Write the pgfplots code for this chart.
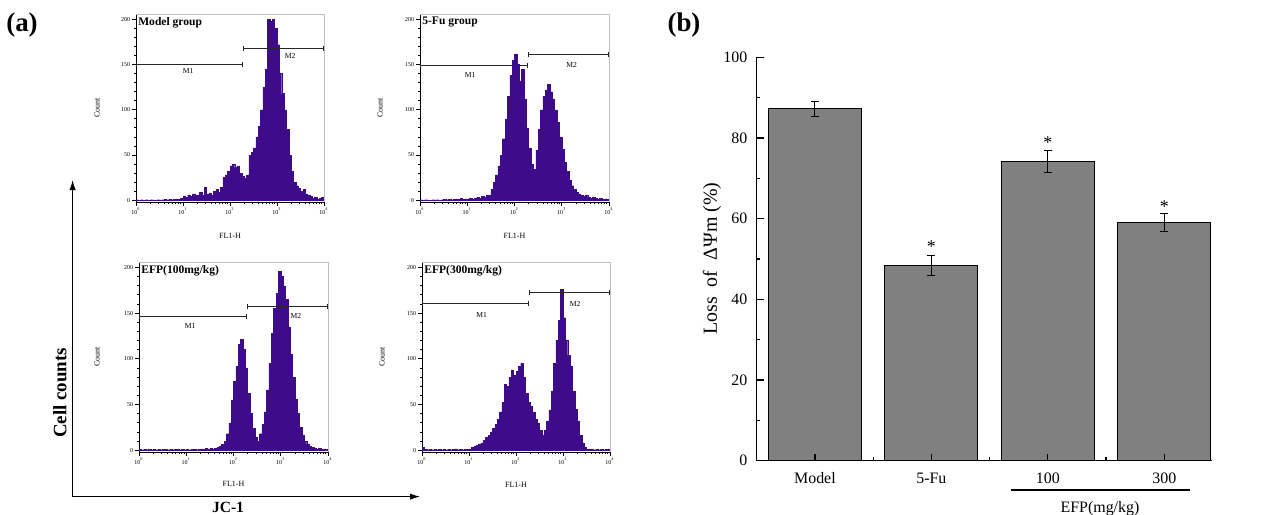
\documentclass[border=0pt]{standalone}
\usepackage{pgfplots}
\pgfplotsset{compat=1.18}
\usepackage{pgfplotstable}
\usepackage{fontspec}
\setmainfont{Liberation Serif}
\usetikzlibrary{arrows.meta}
\definecolor{hist}{RGB}{62,12,138}
\definecolor{barg}{RGB}{128,128,128}

\pgfplotstableread{
x y err
0 87.2 1.9
1 48.4 2.5
2 74.2 2.8
3 59.1 2.25
}\bardata

\pgfplotsset{
 histax/.style={
  scale only axis, width=94bp, height=94bp,
  xmin=0, xmax=4, ymin=-2, ymax=206,
  axis lines=left, axis line style={-, line width=0.5pt},
  clip=false,
  xtick={0,1,2,3,4},
  xticklabels={10\textsuperscript{0},10\textsuperscript{1},10\textsuperscript{2},10\textsuperscript{3},10\textsuperscript{4}},
  minor xtick={0.301,0.477,0.602,0.699,0.778,0.845,0.903,0.954,1.301,1.477,1.602,1.699,1.778,1.845,1.903,1.954,2.301,2.477,2.602,2.699,2.778,2.845,2.903,2.954,3.301,3.477,3.602,3.699,3.778,3.845,3.903,3.954},
  ytick={0,50,100,150,200},
  minor y tick num=4,
  tick align=outside,
  major tick length=2bp, minor tick length=1bp,
  every tick/.style={black, line width=0.4pt},
  tick label style={font=\fontsize{3}{3.5}\selectfont, inner sep=0.8bp},
  /pgf/number format/assume math mode=true,
 },
 hfill/.style={const plot, fill=hist, draw=hist, line width=0.2pt},
}
\tikzset{
 mline/.style={{Bar[width=2.5bp]}-{Bar[width=2.5bp]}, line width=0.55pt, black!85},
 mlab/.style={font=\fontsize{3.8}{4}\selectfont, inner sep=0pt},
 ptitle/.style={font=\bfseries\fontsize{5.8}{6}\selectfont, anchor=north west, inner sep=0.5bp},
 hframe/.style={gray!50, line width=0.3pt},
}

\begin{document}
\begin{tikzpicture}
\useasboundingbox (0,0) rectangle (632bp,-257.5bp);

% ---------- Panel (a) ----------
\node[font=\bfseries\fontsize{13.5}{14}\selectfont] at (11bp,-12.5bp) {(a)};

% Model group
\begin{axis}[histax, anchor=south west, at={(68bp,-101bp)}]
\addplot[hfill] coordinates {(0,0.5) (0.05,0) (0.1,0.5) (0.15,0) (0.2,0.5) (0.25,0) (0.3,0.5) (0.35,0.3) (0.4,0) (0.45,0.5) (0.5,0.3) (0.55,0.5) (0.6,1) (0.65,0.5) (0.7,1) (0.75,0.5) (0.8,1) (0.85,1.5) (0.9,1) (0.95,2) (1,4) (1.05,3) (1.1,6) (1.15,4) (1.2,7) (1.25,5) (1.3,6) (1.35,9) (1.4,5) (1.45,14) (1.5,7) (1.55,8) (1.6,6) (1.65,10) (1.7,12) (1.75,9) (1.8,14) (1.85,25) (1.9,28) (1.95,32) (2,38) (2.05,40) (2.1,36) (2.15,38) (2.2,30) (2.25,27) (2.3,24) (2.35,28) (2.4,50) (2.45,53) (2.5,58) (2.55,70) (2.6,82) (2.65,100) (2.7,125) (2.75,145) (2.8,200) (2.85,198) (2.9,200) (2.95,190) (3,172) (3.05,140) (3.1,118) (3.15,100) (3.2,78) (3.25,50) (3.3,32) (3.35,20) (3.4,16) (3.45,13) (3.5,10) (3.55,12) (3.6,7) (3.65,5) (3.7,4) (3.75,2) (3.8,3) (3.85,1) (3.9,2) (3.95,3) (4,5)} \closedcycle;
\draw[hframe] (rel axis cs:0,1) -- (rel axis cs:1,1) -- (rel axis cs:1,0);
\draw[mline] (axis cs:0,150) -- (axis cs:2.28,150);
\draw[mline] (axis cs:2.28,168) -- (axis cs:4,168);
\node[mlab] at (axis cs:1.11,143) {M1};
\node[mlab] at (axis cs:3.28,160) {M2};
\node[ptitle] at (rel axis cs:0.005,0.99) {Model group};
\end{axis}

% 5-Fu group
\begin{axis}[histax, anchor=south west, at={(210bp,-101bp)}, width=94.5bp]
\addplot[hfill] coordinates {(0,0.5) (0.05,0) (0.1,0.5) (0.15,0.3) (0.2,0) (0.25,0.5) (0.3,0.3) (0.35,0.5) (0.4,0) (0.45,0.5) (0.5,1) (0.55,0.5) (0.6,1) (0.65,0.5) (0.7,1) (0.75,1.5) (0.8,1) (0.85,2) (0.9,1) (0.95,1.5) (1,1.5) (1.05,2) (1.1,1) (1.15,2) (1.2,3) (1.25,2) (1.3,4) (1.35,3) (1.4,6) (1.45,5) (1.5,12) (1.55,20) (1.6,28) (1.65,38) (1.7,50) (1.75,68) (1.8,90) (1.85,115) (1.9,138) (1.95,155) (2,162) (2.05,150) (2.1,132) (2.15,145) (2.2,112) (2.25,80) (2.3,58) (2.35,40) (2.4,34) (2.45,55) (2.5,78) (2.55,100) (2.6,115) (2.65,122) (2.7,128) (2.75,120) (2.8,112) (2.85,100) (2.9,86) (2.95,70) (3,56) (3.05,42) (3.1,32) (3.15,22) (3.2,16) (3.25,12) (3.3,9) (3.35,7) (3.4,5) (3.45,4) (3.5,5) (3.55,3) (3.6,2) (3.65,3) (3.7,2) (3.75,1) (3.8,2) (3.85,1) (3.9,1.5) (3.95,1) (4,2)} \closedcycle;
\draw[hframe] (rel axis cs:0,1) -- (rel axis cs:1,1) -- (rel axis cs:1,0);
\draw[mline] (axis cs:0,149) -- (axis cs:2.28,149);
\draw[mline] (axis cs:2.28,161) -- (axis cs:4,161);
\node[mlab] at (axis cs:1.06,139) {M1};
\node[mlab] at (axis cs:3.21,150) {M2};
\node[ptitle] at (rel axis cs:0.005,0.99) {5-Fu group};
\end{axis}

% EFP 100
\begin{axis}[histax, anchor=south west, at={(69.5bp,-226bp)}, width=94.5bp, height=95bp]
\addplot[hfill] coordinates {(0,1) (0.05,0.5) (0.1,1) (0.15,0.5) (0.2,1) (0.25,0.5) (0.3,1) (0.35,0.5) (0.4,1) (0.45,0.5) (0.5,1) (0.55,1) (0.6,0.5) (0.65,1) (0.7,0.5) (0.75,1) (0.8,1) (0.85,0.5) (0.9,1) (0.95,0.5) (1,1) (1.05,0.5) (1.1,1) (1.15,1) (1.2,0.5) (1.25,1) (1.3,1.5) (1.35,1) (1.4,2) (1.45,1.5) (1.5,2) (1.55,1.5) (1.6,2) (1.65,3) (1.7,4) (1.75,6) (1.8,10) (1.85,18) (1.9,30) (1.95,55) (2,75) (2.05,92) (2.1,116) (2.15,121) (2.2,110) (2.25,90) (2.3,62) (2.35,40) (2.4,24) (2.45,14) (2.5,10) (2.55,18) (2.6,28) (2.65,42) (2.7,66) (2.75,95) (2.8,128) (2.85,155) (2.9,172) (2.95,196) (3,190) (3.05,180) (3.1,165) (3.15,135) (3.2,105) (3.25,80) (3.3,56) (3.35,40) (3.4,25) (3.45,16) (3.5,10) (3.55,7) (3.6,4) (3.65,3) (3.7,2) (3.75,1.5) (3.8,2) (3.85,1) (3.9,1.5) (3.95,1) (4,1)} \closedcycle;
\draw[hframe] (rel axis cs:0,1) -- (rel axis cs:1,1) -- (rel axis cs:1,0);
\draw[mline] (axis cs:0,146) -- (axis cs:2.29,146);
\draw[mline] (axis cs:2.29,157) -- (axis cs:4,157);
\node[mlab] at (axis cs:1.08,136) {M1};
\node[mlab] at (axis cs:3.32,147) {M2};
\node[ptitle] at (rel axis cs:0.005,0.99) {EFP(100mg/kg)};
\end{axis}

% EFP 300
\begin{axis}[histax, anchor=south west, at={(211bp,-226bp)}, width=94bp, height=95bp]
\addplot[hfill] coordinates {(0,3) (0.05,1) (0.1,0.5) (0.15,1) (0.2,0.5) (0.25,1) (0.3,0.5) (0.35,1) (0.4,0.5) (0.45,1) (0.5,0.5) (0.55,1) (0.6,0.5) (0.65,1) (0.7,1.5) (0.75,0.5) (0.8,1) (0.85,0.5) (0.9,1) (0.95,1) (1,1.5) (1.05,3) (1.1,4) (1.15,5) (1.2,7) (1.25,8) (1.3,11) (1.35,14) (1.4,16) (1.45,20) (1.5,24) (1.55,28) (1.6,34) (1.65,42) (1.7,52) (1.75,72) (1.8,70) (1.85,80) (1.9,88) (1.95,82) (2,86) (2.05,92) (2.1,95) (2.15,80) (2.2,62) (2.25,52) (2.3,48) (2.35,42) (2.4,34) (2.45,30) (2.5,22) (2.55,16) (2.6,22) (2.65,32) (2.7,44) (2.75,65) (2.8,95) (2.85,120) (2.9,142) (2.95,176) (3,145) (3.05,120) (3.1,104) (3.15,92) (3.2,65) (3.25,45) (3.3,32) (3.35,16) (3.4,8) (3.45,3) (3.5,1) (3.55,1.5) (3.6,1) (3.65,0.5) (3.7,1) (3.75,0.5) (3.8,1) (3.85,0.5) (3.9,1) (3.95,1.5) (4,1)} \closedcycle;
\draw[hframe] (rel axis cs:0,1) -- (rel axis cs:1,1) -- (rel axis cs:1,0);
\draw[mline] (axis cs:0,161) -- (axis cs:2.27,161);
\draw[mline] (axis cs:2.27,173) -- (axis cs:4,173);
\node[mlab] at (axis cs:1.27,148) {M1};
\node[mlab] at (axis cs:3.26,160) {M2};
\node[ptitle] at (rel axis cs:0.005,0.99) {EFP(300mg/kg)};
\end{axis}

% labels for small panels
\foreach \cx/\cy in {48.5/54, 190/54, 48.5/178.5, 191/178.5}
  \node[font=\fontsize{4}{4.5}\selectfont, rotate=90] at (\cx bp,-\cy bp) {Count};
\foreach \cx/\cy in {115/118, 257.25/118, 116.75/242, 258/242.5}
  \node[font=\fontsize{4}{4.5}\selectfont] at (\cx bp,-\cy bp) {FL1-H};

% big arrows
\draw[{Latex[length=5bp,width=3.2bp]}-{Latex[length=5bp,width=3.2bp]}, line width=0.6pt]
  (36.3bp,-90bp) -- (36.3bp,-248.3bp) -- (210bp,-248.3bp);
\node[font=\bfseries\fontsize{9.5}{10}\selectfont, rotate=90] at (30bp,-196.5bp) {Cell counts};
\node[font=\bfseries\fontsize{7.8}{8}\selectfont] at (114bp,-253.5bp) {JC-1};

% ---------- Panel (b) ----------
\node[font=\bfseries\fontsize{13.5}{14}\selectfont] at (342bp,-12.5bp) {(b)};

\begin{axis}[scale only axis, anchor=south west, at={(378.35bp,-230.35bp)},
  width=227.65bp, height=201.7bp,
  xmin=-0.5, xmax=3.41, ymin=0, ymax=100,
  axis lines=left, axis line style={-, line width=0.7pt},
  axis on top,
  ybar, bar width=0.8,
  xtick={0,1,2,3}, xticklabels={Model,5-Fu,100,300},
  minor xtick={0.5,1.5,2.5},
  ytick={0,20,40,60,80,100}, minor ytick={10,30,50,70,90},
  tick align=inside,
  major tick length=3.4bp, minor tick length=1.8bp,
  every tick/.style={black, line width=0.6pt},
  tick label style={font=\fontsize{8}{9}\selectfont},
  x tick label style={yshift=-2.5bp},
  y tick label style={xshift=-1.2bp},
  /pgf/number format/assume math mode=true,
  clip=false]
\addplot[fill=barg, draw=black, line width=0.5pt,
  error bars/.cd, y dir=both, y explicit,
  error bar style={black, line width=0.5pt},
  error mark options={rotate=90, black, line width=0.5pt, mark size=2bp}]
  table[x=x, y=y, y error=err] {\bardata};
\node[font=\fontsize{9}{9}\selectfont, anchor=north, inner sep=0pt] at (axis cs:1,54.5) {*};
\node[font=\fontsize{9}{9}\selectfont, anchor=north, inner sep=0pt] at (axis cs:2,80.5) {*};
\node[font=\fontsize{9}{9}\selectfont, anchor=north, inner sep=0pt] at (axis cs:3,64.5) {*};
\end{axis}

\node[font=\fontsize{10}{11}\selectfont, rotate=90] at (356bp,-129.3bp) {Loss\hspace{0.5em}of\hspace{0.5em}ΔΨm (\%)};
\draw[line width=0.7pt] (505.5bp,-245bp) -- (595bp,-245bp);
\node[font=\fontsize{8}{9}\selectfont, anchor=north, inner sep=0pt] at (550bp,-250.5bp) {EFP(mg/kg)};
\end{tikzpicture}
\end{document}
